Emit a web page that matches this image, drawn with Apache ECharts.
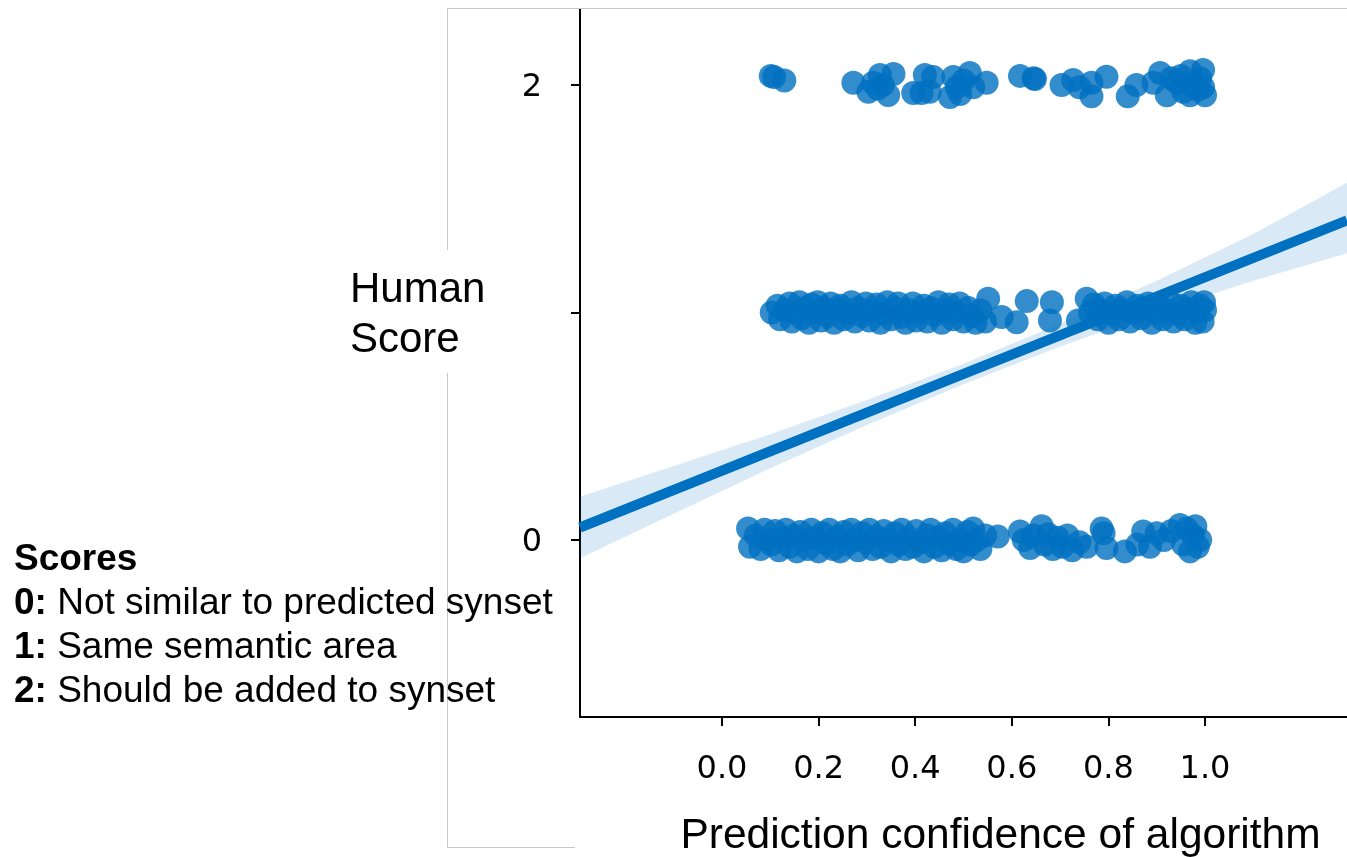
<!DOCTYPE html>
<html>
<head>
<meta charset="utf-8">
<script src="https://cdn.jsdelivr.net/npm/echarts@6/dist/echarts.min.js"></script>
<style>html,body{margin:0;padding:0;background:#fff;}#chart{width:1347px;height:857px;}</style>
</head>
<body>
<div id="chart"></div>
<script>
// ---- data ----
var xTicks = [0, 0.2, 0.4, 0.6, 0.8, 1.0];
var yTicks = [0, 1, 2];
var yTickLabels = [0, 2];

// score 2 points [confidence, jittered score]
var score2 = [[0.101,2.04],[0.108,2.035],[0.129,2.02],[0.272,2.01],[0.303,1.97],[0.313,2.01],[0.327,2.044],[0.333,2.0],[0.344,1.956],[0.355,2.048],[0.322,1.985],[0.396,1.965],[0.413,1.965],[0.42,2.044],[0.437,2.035],[0.43,1.97],[0.472,1.947],[0.479,2.035],[0.486,1.99],[0.493,1.96],[0.513,2.053],[0.5,2.02],[0.52,1.99],[0.548,2.01],[0.617,2.04],[0.648,2.026],[0.645,2.03],[0.703,2.0],[0.727,2.022],[0.765,2.01],[0.765,1.95],[0.74,1.99],[0.796,2.036],[0.84,1.95],[0.858,2.0],[0.893,2.01],[0.907,2.053],[0.921,1.955],[0.93,2.03],[0.942,2.01],[0.955,1.97],[0.969,2.06],[0.975,2.0],[0.969,1.955],[0.99,2.03],[0.996,2.066],[0.996,1.99],[1.0,1.955],[0.985,1.98],[0.95,2.04]];

// score 1 points
var score1 = [[0.103,1.0],[0.115,1.03],[0.12,0.97],[0.13,1.01],[0.14,1.04],[0.145,0.96],[0.152,1.0],[0.16,1.045],[0.165,0.975],[0.172,1.02],[0.18,0.955],[0.185,1.035],[0.19,1.0],[0.198,1.045],[0.205,0.965],[0.21,1.02],[0.218,0.985],[0.225,1.04],[0.232,0.955],[0.238,1.01],[0.245,1.03],[0.252,0.97],[0.26,1.0],[0.268,1.045],[0.275,0.96],[0.282,1.02],[0.29,0.985],[0.298,1.04],[0.305,0.965],[0.312,1.005],[0.32,1.035],[0.328,0.955],[0.335,0.995],[0.342,1.045],[0.35,0.97],[0.358,1.02],[0.365,1.04],[0.372,0.98],[0.38,0.955],[0.388,1.01],[0.395,1.04],[0.402,0.965],[0.41,1.0],[0.418,1.03],[0.425,0.96],[0.432,1.02],[0.44,0.99],[0.448,1.045],[0.455,0.955],[0.462,1.005],[0.47,1.035],[0.478,0.97],[0.485,1.0],[0.492,1.04],[0.5,0.96],[0.51,1.02],[0.518,0.985],[0.525,0.955],[0.535,1.01],[0.545,0.96],[0.551,1.06],[0.579,0.98],[0.61,0.957],[0.631,1.05],[0.683,1.045],[0.679,0.965],[0.737,0.965],[0.755,1.06],[0.762,1.0],[0.77,1.035],[0.778,0.97],[0.785,1.01],[0.792,1.04],[0.8,0.955],[0.808,0.995],[0.815,1.03],[0.822,0.97],[0.83,1.01],[0.838,1.045],[0.845,0.96],[0.852,1.0],[0.86,1.03],[0.868,0.975],[0.875,1.015],[0.882,1.04],[0.89,0.955],[0.898,1.0],[0.905,1.03],[0.912,0.97],[0.92,1.01],[0.928,1.045],[0.935,0.96],[0.942,0.995],[0.95,1.03],[0.958,0.97],[0.965,1.015],[0.972,1.045],[0.98,0.955],[0.985,1.0],[0.99,1.03],[0.995,0.96],[1.0,1.01],[0.998,1.045]];

// score 0 points
var score0 = [[0.054,0.051],[0.058,-0.03],[0.07,0.02],[0.08,-0.04],[0.088,0.045],[0.095,0.0],[0.102,-0.02],[0.11,0.04],[0.118,-0.045],[0.125,0.01],[0.132,0.045],[0.14,-0.03],[0.148,0.02],[0.155,-0.05],[0.162,0.035],[0.17,0.0],[0.178,-0.04],[0.185,0.045],[0.192,0.01],[0.2,-0.05],[0.208,0.03],[0.215,-0.015],[0.222,0.045],[0.23,-0.04],[0.238,0.01],[0.245,-0.05],[0.252,0.035],[0.26,-0.02],[0.268,0.045],[0.275,0.0],[0.282,-0.045],[0.29,0.03],[0.298,-0.01],[0.305,0.045],[0.312,-0.04],[0.32,0.015],[0.328,-0.03],[0.335,0.04],[0.342,0.0],[0.35,-0.05],[0.358,0.03],[0.365,-0.02],[0.372,0.045],[0.38,-0.04],[0.388,0.01],[0.395,-0.03],[0.402,0.04],[0.41,-0.01],[0.418,-0.05],[0.425,0.02],[0.432,0.045],[0.44,-0.03],[0.448,0.01],[0.455,-0.045],[0.462,0.03],[0.47,-0.015],[0.478,0.045],[0.485,-0.04],[0.492,0.0],[0.5,-0.05],[0.508,0.035],[0.515,-0.02],[0.52,0.05],[0.528,0.0],[0.535,-0.04],[0.545,0.02],[0.571,0.015],[0.617,0.037],[0.625,0.0],[0.638,-0.035],[0.645,0.02],[0.662,0.06],[0.668,-0.02],[0.675,0.025],[0.685,-0.04],[0.695,0.01],[0.705,-0.03],[0.715,0.02],[0.725,-0.045],[0.74,-0.01],[0.755,-0.03],[0.786,0.05],[0.79,0.03],[0.796,-0.035],[0.834,-0.05],[0.86,-0.02],[0.872,0.037],[0.886,-0.03],[0.9,0.03],[0.915,0.0],[0.93,0.04],[0.948,0.066],[0.955,-0.02],[0.962,0.05],[0.969,-0.05],[0.975,0.02],[0.98,0.06],[0.99,0.0],[0.985,-0.03]];

// regression line end points and confidence band
var fitLine = [[-0.294, 0.055], [1.294, 1.405]];
var bandX    = [-0.294, -0.1, 0.1, 0.3, 0.5, 0.7, 0.9, 1.1, 1.294];
var bandLow  = [-0.08, 0.115, 0.315, 0.505, 0.685, 0.85, 1.0, 1.14, 1.26];
var bandHigh = [0.19, 0.325, 0.465, 0.615, 0.775, 0.95, 1.14, 1.345, 1.57];

var xName = 'Prediction confidence of algorithm';
var yName = 'Human\nScore';

// ---- chart ----
var BLUE = '#0070c0';
var chart = echarts.init(document.getElementById('chart'), null, {renderer: 'canvas'});
var allPoints = score0.concat(score1, score2);

chart.setOption({
  animation: false,
  backgroundColor: '#fff',
  grid: {left: 580, top: 9, right: 0, bottom: 140, containLabel: false, outerBoundsMode: 'none'},
  xAxis: {
    type: 'value', min: -0.294, max: 1.294,
    axisLine: {onZero: false, lineStyle: {color: '#000', width: 2}},
    axisTick: {customValues: xTicks, length: 9, lineStyle: {color: '#000', width: 2}},
    axisLabel: {customValues: xTicks, formatter: function (v) { return (+v).toFixed(1); },
      fontFamily: 'DejaVu Sans', fontSize: 32, color: '#000', margin: 37},
    splitLine: {show: false},
    name: xName, nameLocation: 'middle', nameGap: 98,
    nameTextStyle: {fontFamily: 'Liberation Sans', fontSize: 42.5, color: '#000', padding: [0, 0, 0, 74]}
  },
  yAxis: {
    type: 'value', min: -0.778, max: 2.334,
    axisLine: {onZero: false, lineStyle: {color: '#000', width: 2}},
    axisTick: {customValues: yTicks, length: 9, lineStyle: {color: '#000', width: 2}},
    axisLabel: {customValues: yTickLabels, margin: 38,
      formatter: function (v) { return '{t|' + v + '}'; },
      rich: {t: {fontFamily: 'DejaVu Sans', fontSize: 32, color: '#000', padding: [6, 0, 0, 0]}}},
    splitLine: {show: false}
  },
  series: [
    {
      type: 'scatter', data: allPoints, symbolSize: 24, z: 2,
      itemStyle: {color: BLUE, opacity: 0.8}
    },
    {
      type: 'custom', z: 3, data: [[0, 0]],
      renderItem: function (params, api) {
        var pts = [];
        for (var i = 0; i < bandX.length; i++) pts.push(api.coord([bandX[i], bandHigh[i]]));
        for (var j = bandX.length - 1; j >= 0; j--) pts.push(api.coord([bandX[j], bandLow[j]]));
        return {type: 'polygon', shape: {points: pts}, style: {fill: 'rgba(0,112,192,0.15)'}};
      }
    },
    {
      type: 'line', data: fitLine, symbol: 'none', z: 4,
      lineStyle: {color: BLUE, width: 10}
    }
  ],
  graphic: [
    {type: 'line', shape: {x1: 447, y1: 8.5, x2: 1347, y2: 8.5}, style: {stroke: '#c8c8c8', lineWidth: 1}, z: 1},
    {type: 'line', shape: {x1: 447.5, y1: 8, x2: 447.5, y2: 847.5}, style: {stroke: '#c8c8c8', lineWidth: 1}, z: 1},
    {type: 'line', shape: {x1: 447, y1: 847.5, x2: 575, y2: 847.5}, style: {stroke: '#c8c8c8', lineWidth: 1}, z: 1},
    {type: 'text', x: 344, y: 250, z: 5,
      style: {text: yName, fontFamily: 'Liberation Sans', fontSize: 42, lineHeight: 50, fill: '#000',
        verticalAlign: 'top', backgroundColor: '#fff', padding: [15, 6, 8, 6]}},
    {type: 'text', x: 14, y: 538, z: 5,
      style: {
        text: '{b|Scores}\n{b|0:}{n| Not similar to predicted synset}\n{b|1:}{n| Same semantic area}\n{b|2:}{n| Should be added to synset}',
        fontFamily: 'Liberation Sans', fontSize: 37, lineHeight: 44, fill: '#000', verticalAlign: 'top',
        rich: {
          b: {fontFamily: 'Liberation Sans', fontSize: 37, fontWeight: 'bold', lineHeight: 44, fill: '#000'},
          n: {fontFamily: 'Liberation Sans', fontSize: 37, fontWeight: 'normal', lineHeight: 44, fill: '#000'}
        }
      }}
  ]
});
</script>
</body>
</html>
